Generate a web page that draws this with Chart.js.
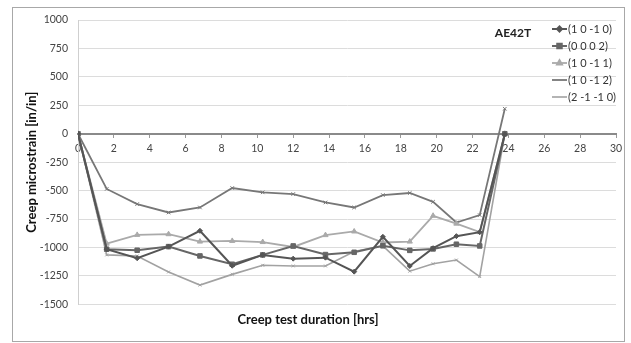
<!DOCTYPE html>
<html>
<head>
<meta charset="utf-8">
<script src="https://cdn.jsdelivr.net/npm/chart.js@4.4.1/dist/chart.umd.min.js"></script>
<style>
  html, body { margin: 0; padding: 0; background: #fff; }
  #wrap { width: 631px; height: 343px; }
</style>
</head>
<body>
<div id="wrap"><canvas id="creep"></canvas></div>
<script>
// creep test data (hrs vs microstrain)
const hours = [0, 1.6, 3.3, 5.05, 6.8, 8.6, 10.3, 12, 13.8, 15.4, 17, 18.5, 19.8, 21.1, 22.4, 23.8];
const s1010 = [0, -1015, -1094, -992, -853, -1160, -1065, -1098, -1089, -1212, -906, -1162, -1006, -900, -865, -5];
const s0002 = [0, -1015, -1024, -992, -1074, -1147, -1065, -986, -1062, -1042, -985, -1025, -1012, -971, -986, 0];
const s1011 = [0, -966, -889, -883, -948, -942, -952, -995, -891, -859, -956, -948, -721, -790, -865, 0];
const s1012 = [0, -485, -618, -692, -648, -477, -515, -530, -604, -648, -539, -521, -598, -780, -715, 220];
const s2110 = [0, -1065, -1074, -1215, -1330, -1236, -1156, -1162, -1162, -1035, -985, -1208, -1143, -1110, -1255, 0];

const seriesNames = ['(1 0 -1 0)', '(0 0 0 2)', '(1 0 -1 1)', '(1 0 -1 2)', '(2 -1 -1 0)'];
const xTicks = [0, 2, 4, 6, 8, 10, 12, 14, 16, 18, 20, 22, 24, 26, 28, 30];
const yTicks = [1000, 750, 500, 250, 0, -250, -500, -750, -1000, -1250, -1500];

const styles = [
  { color: '#555', style: 'rectRot', r: 2.5, w: 2 },
  { color: '#666', style: 'rect', r: 3.2, w: 2 },
  { color: '#aaa', style: 'triangle', r: 3, w: 1.8 },
  { color: '#777', style: 'crossRot', r: 2.5, w: 1.8 },
  { color: '#a2a2a2', style: 'crossRot', r: 2, w: 1.6 }
];

function toPoints(vals) {
  return vals.map((v, i) => ({ x: hours[i], y: v }));
}

const allSeries = [s1010, s0002, s1011, s1012, s2110];
const datasets = allSeries.map((vals, i) => ({
  label: seriesNames[i],
  data: toPoints(vals),
  borderColor: styles[i].color,
  backgroundColor: styles[i].color,
  borderWidth: styles[i].w,
  pointStyle: styles[i].style,
  pointRadius: styles[i].r,
  pointBorderWidth: 1,
  tension: 0
}));

// frame, legend and the sample tag
const extras = {
  id: 'extras',
  beforeDraw(chart) {
    const ctx = chart.ctx;
    ctx.save();
    ctx.fillStyle = '#fff';
    ctx.fillRect(0, 0, chart.width, chart.height);
    ctx.strokeStyle = '#a8a8a8';
    ctx.lineWidth = 1;
    ctx.strokeRect(12.5, 7.5, 612, 334);
    ctx.restore();
  },
  afterDraw(chart) {
    const ctx = chart.ctx;
    ctx.save();
    ctx.font = 'bold 12px Lato';
    ctx.fillStyle = '#222';
    ctx.textAlign = 'center';
    ctx.textBaseline = 'middle';
    ctx.fillText('AE42T', 513, 33);

    ctx.font = '11px Lato';
    ctx.textAlign = 'left';
    seriesNames.forEach((name, i) => {
      const y = 29 + i * 17;
      const st = styles[i];
      ctx.strokeStyle = st.color;
      ctx.lineWidth = st.w;
      ctx.beginPath();
      ctx.moveTo(552, y);
      ctx.lineTo(567, y);
      ctx.stroke();
      if (i < 3) {
        ctx.fillStyle = st.color;
        Chart.helpers.drawPoint(ctx, { pointStyle: st.style, radius: st.r, borderWidth: 1 }, 559.5, y);
      }
      ctx.fillStyle = '#333';
      ctx.fillText(name, 568, y + 0.5);
    });
    ctx.restore();
  }
};

new Chart(document.getElementById('creep'), {
  type: 'line',
  data: { datasets },
  plugins: [extras],
  options: {
    responsive: true,
    maintainAspectRatio: false,
    animation: false,
    layout: { padding: { left: 0, top: 20, right: 15, bottom: 0 } },
    plugins: {
      legend: { display: false },
      tooltip: { enabled: false },
      title: {
        display: true,
        position: 'bottom',
        text: 'Creep test duration [hrs]',
        color: '#111',
        font: { family: 'Lato', size: 13, weight: 'bold' },
        padding: { top: 8, bottom: 15 }
      }
    },
    scales: {
      x: {
        type: 'linear',
        position: { y: 0 },
        min: 0,
        max: 30,
        afterBuildTicks(scale) {
          scale.ticks = xTicks.map(v => ({ value: v }));
        },
        grid: { drawOnChartArea: false, tickLength: 3, tickColor: '#999' },
        border: { color: '#8a8a8a', width: 2 },
        ticks: { color: '#444', font: { family: 'Lato', size: 10.5 }, padding: 6, maxRotation: 0,
          callback: v => String(v) }
      },
      y: {
        min: -1500,
        max: 1000,
        afterBuildTicks(scale) {
          scale.ticks = yTicks.map(v => ({ value: v }));
        },
        afterFit(scale) { scale.width = 78; },
        grid: { color: '#dcdcdc', drawTicks: false },
        border: { color: '#cfcfcf' },
        ticks: { color: '#444', font: { family: 'Lato', size: 10.5 }, padding: 10,
          callback: v => String(v) },
        title: {
          display: true,
          text: 'Creep microstrain [in/in]',
          color: '#111',
          font: { family: 'Lato', size: 13, weight: 'bold' },
          padding: { top: 24, bottom: 0 }
        }
      }
    }
  }
});
</script>
</body>
</html>
